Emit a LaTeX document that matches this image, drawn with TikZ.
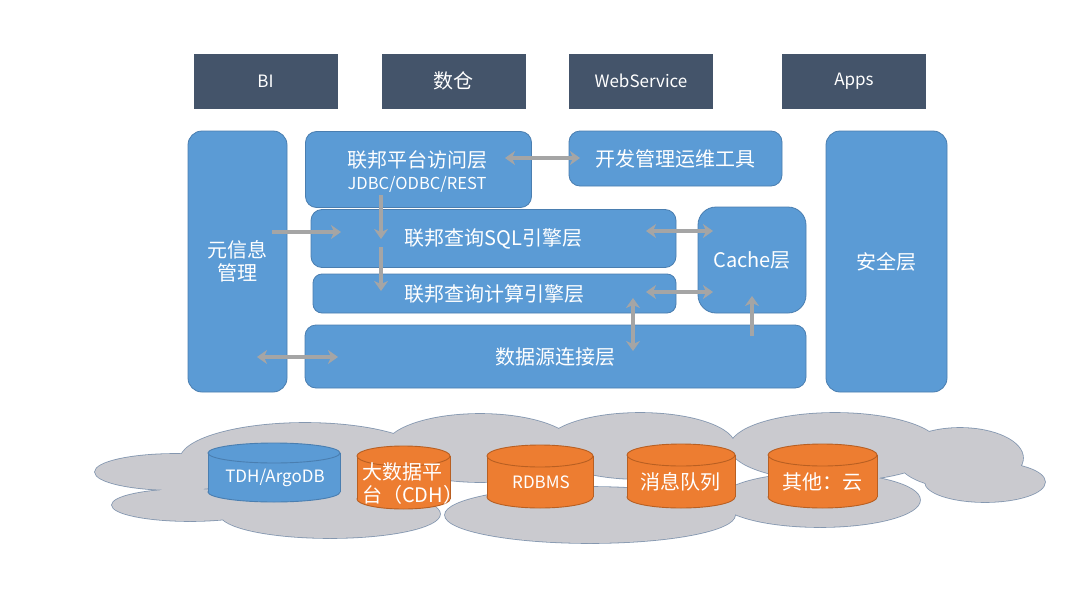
\documentclass[tikz,border=0pt]{standalone}
\usepackage{fontspec}
\setmainfont{Noto Sans CJK SC}
\usetikzlibrary{arrows.meta}
\definecolor{slate}{HTML}{44546A}
\definecolor{mblue}{HTML}{5B9BD5}
\definecolor{bblue}{HTML}{4A7EB0}
\definecolor{morange}{HTML}{ED7D31}
\definecolor{borange}{HTML}{B85F22}
\definecolor{agray}{HTML}{A5A5A5}
\definecolor{cloudfill}{HTML}{CACACF}
\definecolor{cloudline}{HTML}{8497B0}
% cx, rx, top, bottom, ry, fill, draw
\newcommand{\dbcyl}[7]{%
  \filldraw[fill=#6,draw=#7,line width=0.9pt] (#1,#4-#5) ellipse [x radius=#2pt,y radius=#5pt];
  \fill[#6] (#1-#2,#3+#5) rectangle (#1+#2,#4-#5);
  \draw[#7,line width=0.9pt] (#1-#2,#3+#5) -- (#1-#2,#4-#5) (#1+#2,#3+#5) -- (#1+#2,#4-#5);
  \filldraw[fill=#6,draw=#7,line width=0.9pt] (#1,#3+#5) ellipse [x radius=#2pt,y radius=#5pt];
}
\begin{document}
\begin{tikzpicture}[x=1pt,y=-1pt,
  topbox/.style={fill=slate,text=white,font=\fontsize{17}{20}\selectfont,minimum width=144pt,minimum height=55pt,inner sep=0pt},
  blk/.style={fill=mblue,draw=bblue,line width=0.8pt,rounded corners=11pt,text=white,font=\fontsize{20}{23}\selectfont,inner sep=0pt,align=center},
  conn/.style={draw=agray,line width=3.6pt,-{Stealth[length=10pt,width=14pt,inset=3pt]}},
  dconn/.style={draw=agray,line width=3.6pt,{Stealth[length=10pt,width=14pt,inset=3pt]}-{Stealth[length=10pt,width=14pt,inset=3pt]}},
  dbtext/.style={text=white,inner sep=0pt,font=\fontsize{20}{23}\selectfont},
  dblatin/.style={text=white,inner sep=0pt,font=\fontsize{17}{20}\selectfont}]
\useasboundingbox (0,0) rectangle (1080,608);
\fill[white] (0,0) rectangle (1080,608);

% top consumers
\node[topbox] (bi) at (265.5,81) {BI};
\node[topbox,font=\fontsize{20}{23}\selectfont] (dw) at (453.5,81) {数仓};
\node[topbox] (ws) at (641,81) {WebService};
\node[topbox] (apps) at (854,81) {Apps};

% blocks
\node[blk,rounded corners=14pt,minimum width=99pt,minimum height=261pt] (meta) at (237.5,261.5) {元信息\\管理};
\node[blk,minimum width=226pt,minimum height=76pt] (access) at (418.5,169.5) {};
\node[text=white,inner sep=0pt,font=\fontsize{20}{23}\selectfont] (accesst) at (417,160) {联邦平台访问层};
\node[text=white,inner sep=0pt,font=\fontsize{16.5}{19}\selectfont] (accessj) at (417,184) {JDBC/ODBC/REST};
\node[blk,minimum width=213pt,minimum height=55pt] (dev) at (675.5,158.5) {开发管理运维工具};
\node[blk,minimum width=365pt,minimum height=58pt] (sql) at (493.5,238.5) {联邦查询SQL引擎层};
\node[blk,rounded corners=9pt,minimum width=363pt,minimum height=39pt] (comp) at (494.5,293.5) {联邦查询计算引擎层};
\node[blk,rounded corners=18pt,minimum width=108pt,minimum height=106pt] (cache) at (752,260) {Cache层};
\node[blk,minimum width=501pt,minimum height=63pt] (ds) at (555.5,356.5) {数据源连接层};
\node[blk,rounded corners=14pt,minimum width=121pt,minimum height=261pt] (sec) at (886.5,261.5) {安全层};

% connectors
\coordinate (a1s) at (505,158); \coordinate (a1e) at (580,158);
\coordinate (a2s) at (381,195); \coordinate (a2e) at (381,239);
\coordinate (a3s) at (381,247); \coordinate (a3e) at (381,291);
\coordinate (a4s) at (272,232); \coordinate (a4e) at (341,232);
\coordinate (a5s) at (257,357); \coordinate (a5e) at (338,357);
\coordinate (a6s) at (646,231); \coordinate (a6e) at (713,231);
\coordinate (a7s) at (646,292); \coordinate (a7e) at (713,292);
\coordinate (a8s) at (633,298); \coordinate (a8e) at (633,351);
\coordinate (a9s) at (752,336); \coordinate (a9e) at (752,296);
\draw[dconn] (a1s) -- (a1e);
\draw[conn] (a2s) -- (a2e);
\draw[conn] (a3s) -- (a3e);
\draw[conn] (a4s) -- (a4e);
\draw[dconn] (a5s) -- (a5e);
\draw[dconn] (a6s) -- (a6e);
\draw[dconn] (a7s) -- (a7e);
\draw[dconn] (a8s) -- (a8e);
\draw[conn] (a9s) -- (a9e);

% cloud
\def\cloudlobes{(175,472) ellipse [x radius=80pt,y radius=18pt]
  (190,505) ellipse [x radius=78pt,y radius=16pt]
  (305,460) ellipse [x radius=125pt,y radius=37pt]
  (480,448) ellipse [x radius=95pt,y radius=34pt]
  (640,446) ellipse [x radius=95pt,y radius=33pt]
  (835,447) ellipse [x radius=105pt,y radius=34pt]
  (960,458) ellipse [x radius=63pt,y radius=30pt]
  (985,482) ellipse [x radius=60pt,y radius=20pt]
  (820,500) ellipse [x radius=100pt,y radius=27pt]
  (330,514) ellipse [x radius=110pt,y radius=24pt]
  (590,515) ellipse [x radius=145pt,y radius=28pt]}
\draw[cloudline,line width=1.6pt] \cloudlobes;
\fill[cloudfill] \cloudlobes;

% data sources
\dbcyl{274}{66}{443}{502}{10}{mblue}{bblue}
\node[dblatin] (tdh) at (275,478) {TDH/ArgoDB};
\dbcyl{403.5}{46.5}{446}{509}{10}{morange}{borange}
\node[dbtext,text width=82pt,align=left] (cdh) at (403,484) {大数据平\\台（CDH）};
\dbcyl{540}{53}{445}{508}{11}{morange}{borange}
\node[dblatin] (rdbms) at (541,482) {RDBMS};
\dbcyl{681}{54}{444}{508}{11}{morange}{borange}
\node[dbtext] (mq) at (680,482) {消息队列};
\dbcyl{822.5}{54.5}{444}{508}{11}{morange}{borange}
\node[dbtext] (other) at (822,482) {其他：云};
\end{tikzpicture}
\end{document}
